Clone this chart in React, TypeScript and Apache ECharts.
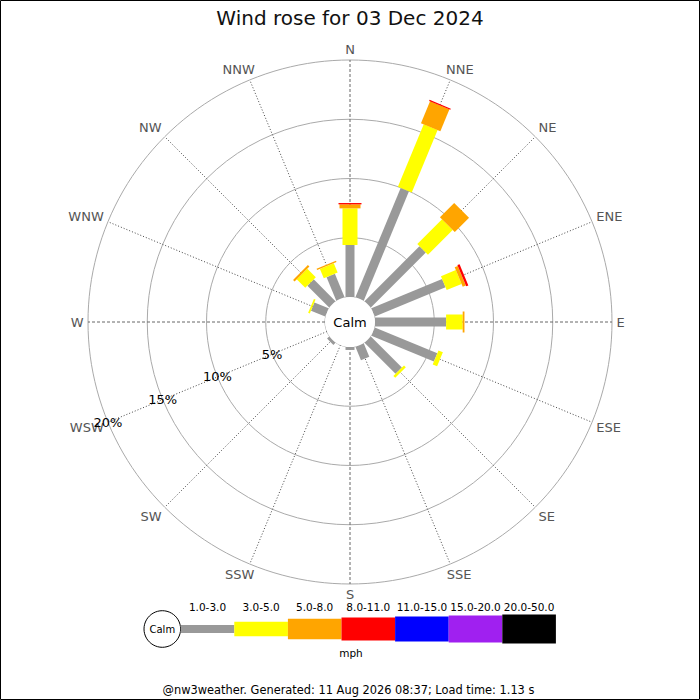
import React, { useEffect, useRef } from "react";
import * as echarts from "echarts";

const directions = ["N", "NNE", "NE", "ENE", "E", "ESE", "SE", "SSE", "S", "SSW", "SW", "WSW", "W", "WNW", "NW", "NNW"];
const speedBands = ["1.0-3.0", "3.0-5.0", "5.0-8.0", "8.0-11.0", "11.0-15.0", "15.0-20.0", "20.0-50.0"];
// percentage of time per direction for each speed band (mph)
const band1to3 = [4.39, 9.98, 6.56, 6.46, 6.0, 5.71, 3.7, 1.23, 0.25, 0, 0.25, 0, 0, 1.3, 2.6, 2.14];
const band3to5 = [3.09, 5.7, 2.95, 1.36, 1.4, 0.4, 0.22, 0, 0, 0, 0, 0, 0, 0.15, 1.02, 0.86];
const band5to8 = [0.34, 2.0, 1.7, 0.28, 0.15, 0, 0, 0, 0, 0, 0, 0, 0, 0, 0.18, 0.12];
const band8to11 = [0.11, 0.1, 0, 0.2, 0, 0, 0, 0, 0, 0, 0, 0, 0, 0, 0, 0];
const band11to15 = [0, 0, 0, 0, 0, 0, 0, 0, 0, 0, 0, 0, 0, 0, 0, 0];
const band15to20 = [0, 0, 0, 0, 0, 0, 0, 0, 0, 0, 0, 0, 0, 0, 0, 0];
const band20to50 = [0, 0, 0, 0, 0, 0, 0, 0, 0, 0, 0, 0, 0, 0, 0, 0];
const ringTicks = [5, 10, 15, 20];

const titleText = "Wind rose for 03 Dec 2024";
const footerText = "@nw3weather. Generated: 11 Aug 2026 08:37; Load time: 1.13 s";

const BAND_COLORS = ["#999999", "#ffff00", "#ffa500", "#ff0000", "#0000ff", "#a020f0", "#000000"];
const BAND_WIDTHS = [9, 15, 21, 23, 25, 27, 29];
const LEGEND_HEIGHTS = [8, 14.6, 20.6, 23, 25, 27, 29];
const FONT = "DejaVu Sans";

export default function App() {
  const ref = useRef<HTMLDivElement>(null);

  useEffect(() => {
    document.body.style.margin = "0";
    const chart = echarts.init(ref.current!, null, { renderer: "svg" });
    const ctx = document.createElement("canvas").getContext("2d")!;
    ctx.font = `13px "${FONT}"`;

    const bands = [band1to3, band3to5, band5to8, band8to11, band11to15, band15to20, band20to50];
    const step = 360 / directions.length;
    const barData = directions.map((d, i) => {
      const vals = bands.map((b) => b[i]);
      return [vals.reduce((a, c) => a + c, 0), i * step, ...vals];
    });
    const spokeData = directions.map((d, i) => [20, i * step]);
    const ringData = ringTicks.map((t) => [t, 11 * step]);

    const unit = (api: any, ang: number) => {
      const p0 = api.coord([0, ang]);
      const p1 = api.coord([20, ang]);
      const dx = p1[0] - p0[0];
      const dy = p1[1] - p0[1];
      const len = Math.hypot(dx, dy);
      return { p0, p1, ux: dx / len, uy: dy / len };
    };
    const clamp1 = (v: number) => Math.max(-1, Math.min(1, v));

    // legend graphics
    const legendX0 = 180.7;
    const segW = 53.6;
    const legendY = 629;
    const legend: any[] = [
      {
        type: "circle",
        shape: { cx: 162.3, cy: legendY, r: 18.3 },
        style: { fill: "#fff", stroke: "#000", lineWidth: 1 },
      },
      {
        type: "text",
        x: 162.3,
        y: legendY,
        style: { text: "Calm", fontSize: 10, fontFamily: FONT, fill: "#000", align: "center", verticalAlign: "middle" },
      },
    ];
    speedBands.forEach((lab, b) => {
      const h = LEGEND_HEIGHTS[b];
      legend.push({
        type: "rect",
        shape: { x: legendX0 + b * segW, y: legendY - h / 2, width: segW, height: h },
        style: { fill: BAND_COLORS[b] },
      });
      legend.push({
        type: "text",
        x: legendX0 + b * segW + segW / 2,
        y: 607,
        style: { text: lab, fontSize: 10.5, fontFamily: FONT, fill: "#000", align: "center", verticalAlign: "middle" },
      });
    });
    legend.push({
      type: "text",
      x: 351,
      y: 653,
      style: { text: "mph", fontSize: 10.5, fontFamily: FONT, fill: "#000", align: "center", verticalAlign: "middle" },
    });

    chart.setOption({
      animation: false,
      textStyle: { fontFamily: FONT },
      polar: { center: [350, 322], radius: [25, 262] },
      angleAxis: {
        type: "value",
        min: 0,
        max: 360,
        interval: 22.5,
        startAngle: 90,
        clockwise: true,
        axisLine: { show: false },
        axisTick: { show: false },
        axisLabel: { show: false },
        splitLine: { show: false },
      },
      radiusAxis: {
        type: "value",
        min: 0,
        max: 20,
        interval: 5,
        axisLine: { show: false },
        axisTick: { show: false },
        axisLabel: { show: false },
        splitLine: { show: true, lineStyle: { color: "#aaaaaa", width: 1 } },
      },
      graphic: [
        {
          type: "rect",
          shape: { x: 0.5, y: 0.5, width: 699, height: 699 },
          style: { fill: "none", stroke: "#000", lineWidth: 1 },
          z: 100,
        },
        {
          type: "text",
          x: 350,
          y: 18,
          style: { text: titleText, fontSize: 20, fontFamily: FONT, fill: "#111", align: "center", verticalAlign: "middle" },
        },
        {
          type: "text",
          x: 348.5,
          y: 690,
          style: { text: footerText, fontSize: 11.4, fontFamily: FONT, fill: "#000", align: "center", verticalAlign: "middle" },
        },
        ...legend,
      ],
      series: [
        {
          type: "custom",
          name: "spokes",
          coordinateSystem: "polar",
          clip: false,
          z: 1,
          data: spokeData,
          renderItem: (params: any, api: any) => {
            const ang = api.value(1) as number;
            const a = api.coord([0, ang]);
            const b = api.coord([api.value(0), ang]);
            const cardinal = params.dataIndex % 4 === 0;
            return {
              type: "line",
              shape: { x1: a[0], y1: a[1], x2: b[0], y2: b[1] },
              style: {
                stroke: cardinal ? "#666666" : "#444444",
                lineWidth: 1,
                lineDash: cardinal ? [3, 2] : [1, 2],
              },
            };
          },
        },
        {
          type: "custom",
          name: "calm",
          coordinateSystem: "polar",
          clip: false,
          z: 3,
          data: [[0, 0]],
          renderItem: (params: any, api: any) => {
            const a = api.coord([0, 0]);
            const b = api.coord([0, 180]);
            const cx = (a[0] + b[0]) / 2;
            const cy = (a[1] + b[1]) / 2;
            const r = Math.hypot(a[0] - b[0], a[1] - b[1]) / 2;
            return {
              type: "group",
              children: [
                { type: "circle", shape: { cx, cy, r }, style: { fill: "#fff" } },
                {
                  type: "text",
                  x: cx,
                  y: cy,
                  style: { text: "Calm", fontSize: 13, fontFamily: FONT, fill: "#000", align: "center", verticalAlign: "middle" },
                },
              ],
            };
          },
        },
        {
          type: "custom",
          name: "wind",
          coordinateSystem: "polar",
          clip: false,
          z: 2,
          data: barData,
          renderItem: (params: any, api: any) => {
            const ang = api.value(1) as number;
            const { ux, uy } = unit(api, ang);
            const nx = -uy;
            const ny = ux;
            const children: any[] = [];
            let cum = 0;
            for (let b = 0; b < speedBands.length; b++) {
              const v = api.value(2 + b) as number;
              if (!v) continue;
              const A = api.coord([cum, ang]);
              const B = api.coord([cum + v, ang]);
              cum += v;
              const hw = BAND_WIDTHS[b] / 2;
              children.push({
                type: "polygon",
                shape: {
                  points: [
                    [A[0] + nx * hw, A[1] + ny * hw],
                    [B[0] + nx * hw, B[1] + ny * hw],
                    [B[0] - nx * hw, B[1] - ny * hw],
                    [A[0] - nx * hw, A[1] - ny * hw],
                  ],
                },
                style: { fill: BAND_COLORS[b] },
              });
            }
            return { type: "group", children };
          },
        },
        {
          type: "custom",
          name: "dirLabels",
          coordinateSystem: "polar",
          clip: false,
          z: 4,
          data: spokeData,
          renderItem: (params: any, api: any) => {
            const ang = api.value(1) as number;
            const { p1, ux, uy } = unit(api, ang);
            const text = directions[params.dataIndex];
            const hw = ctx.measureText(text).width / 2;
            const hh = 6;
            const m = 4.5;
            return {
              type: "text",
              x: p1[0] + m * ux + hw * clamp1(1.5 * ux),
              y: p1[1] + m * uy + hh * clamp1(1.5 * uy),
              style: { text, fontSize: 13, fontFamily: FONT, fill: "#555555", align: "center", verticalAlign: "middle" },
            };
          },
        },
        {
          type: "custom",
          name: "ringLabels",
          coordinateSystem: "polar",
          clip: false,
          z: 4,
          data: ringData,
          renderItem: (params: any, api: any) => {
            const p = api.coord([api.value(0), api.value(1)]);
            return {
              type: "text",
              x: p[0],
              y: p[1],
              style: {
                text: `${ringTicks[params.dataIndex]}%`,
                fontSize: 13,
                fontFamily: FONT,
                fill: "#000",
                align: "center",
                verticalAlign: "middle",
              },
            };
          },
        },
      ],
    });

    return () => chart.dispose();
  }, []);

  return <div ref={ref} style={{ width: 700, height: 700 }} />;
}
